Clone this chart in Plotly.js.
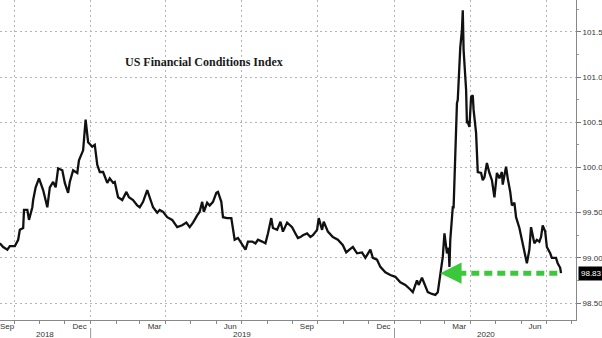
<!DOCTYPE html>
<html>
<head>
<meta charset="utf-8">
<script src="https://cdn.plot.ly/plotly-3.0.1.min.js"></script>
<style>html,body{margin:0;padding:0;background:#fff}#chart{width:602px;height:338px}</style>
</head>
<body>
<div id="chart"></div>
<script>
// ---- data ----
const dates = [
"2018-09-14","2018-09-18","2018-09-23","2018-09-26","2018-10-02","2018-10-06","2018-10-08","2018-10-12","2018-10-13","2018-10-17",
"2018-10-19","2018-10-23","2018-10-24","2018-10-27","2018-10-31","2018-11-05","2018-11-10","2018-11-13","2018-11-17","2018-11-20",
"2018-11-23","2018-11-28","2018-12-01","2018-12-05","2018-12-07","2018-12-11","2018-12-16","2018-12-18","2018-12-23","2018-12-26",
"2018-12-29","2019-01-03","2019-01-06","2019-01-09","2019-01-12","2019-01-16","2019-01-21","2019-01-24","2019-01-28","2019-01-30",
"2019-02-03","2019-02-08","2019-02-13","2019-02-16","2019-02-21","2019-02-26","2019-03-01","2019-03-05","2019-03-10","2019-03-13",
"2019-03-17","2019-03-22","2019-03-25","2019-03-29","2019-04-03","2019-04-09","2019-04-15","2019-04-21","2019-04-26","2019-04-30",
"2019-05-04","2019-05-09","2019-05-12","2019-05-15","2019-05-17","2019-05-21","2019-05-24","2019-05-28","2019-06-01","2019-06-03",
"2019-06-07","2019-06-09","2019-06-14","2019-06-19","2019-06-21","2019-06-23","2019-06-27","2019-07-02","2019-07-06","2019-07-09",
"2019-07-14","2019-07-18","2019-07-21","2019-07-26","2019-07-30","2019-08-02","2019-08-06","2019-08-08","2019-08-13","2019-08-17",
"2019-08-20","2019-08-25","2019-08-31","2019-09-04","2019-09-07","2019-09-10","2019-09-13","2019-09-18","2019-09-22","2019-09-25",
"2019-09-30","2019-10-02","2019-10-06","2019-10-08","2019-10-13","2019-10-19","2019-10-25","2019-10-31","2019-11-04","2019-11-09",
"2019-11-12","2019-11-17","2019-11-23","2019-11-27","2019-12-03","2019-12-06","2019-12-11","2019-12-15","2019-12-21","2019-12-27",
"2020-01-02","2020-01-08","2020-01-14","2020-01-20","2020-01-23","2020-01-28","2020-01-30","2020-02-03","2020-02-07","2020-02-10",
"2020-02-15","2020-02-19","2020-02-22","2020-02-25","2020-02-28","2020-03-01","2020-03-04","2020-03-06","2020-03-07","2020-03-08",
"2020-03-11","2020-03-12","2020-03-14","2020-03-15","2020-03-16","2020-03-17","2020-03-20","2020-03-22","2020-03-23","2020-03-24",
"2020-03-27","2020-03-28","2020-03-29","2020-03-31","2020-04-02","2020-04-04","2020-04-05","2020-04-08","2020-04-10","2020-04-14",
"2020-04-16","2020-04-18","2020-04-21","2020-04-24","2020-04-27","2020-04-30","2020-05-03","2020-05-06","2020-05-09","2020-05-10",
"2020-05-14","2020-05-16","2020-05-19","2020-05-21","2020-05-24","2020-05-26","2020-05-30","2020-06-02","2020-06-05","2020-06-08",
"2020-06-11","2020-06-13","2020-06-15","2020-06-17","2020-06-20","2020-06-23","2020-06-25","2020-06-27","2020-06-30","2020-07-02",
"2020-07-06","2020-07-08","2020-07-13","2020-07-15","2020-07-18","2020-07-19"
];
const fciValues = [
99.16,99.12,99.09,99.13,99.13,99.20,99.31,99.33,99.53,99.53,
99.42,99.56,99.64,99.78,99.88,99.75,99.56,99.78,99.84,99.78,
99.99,99.97,99.83,99.72,99.84,99.97,99.94,100.08,100.19,100.53,
100.28,100.23,100.25,100.03,99.95,99.95,99.83,99.88,99.83,99.84,
99.67,99.64,99.73,99.67,99.64,99.58,99.56,99.62,99.75,99.66,
99.56,99.50,99.53,99.51,99.45,99.42,99.34,99.36,99.39,99.34,
99.39,99.47,99.51,99.62,99.51,99.61,99.58,99.62,99.72,99.73,
99.62,99.45,99.44,99.44,99.29,99.20,99.22,99.14,99.09,99.18,
99.18,99.16,99.20,99.18,99.16,99.27,99.44,99.33,99.31,99.40,
99.29,99.39,99.34,99.27,99.22,99.23,99.25,99.27,99.23,99.25,
99.31,99.44,99.31,99.40,99.29,99.23,99.20,99.14,99.06,99.10,
99.12,99.05,99.06,99.00,99.09,99.00,98.98,98.90,98.84,98.81,
98.79,98.73,98.70,98.65,98.62,98.75,98.70,98.78,98.68,98.62,
98.60,98.59,98.62,98.79,99.01,99.27,99.05,99.11,98.90,99.20,
99.56,99.56,100.16,100.49,100.71,100.75,101.33,101.52,101.74,101.30,
100.86,100.49,100.50,100.45,100.78,100.80,100.64,100.38,99.95,99.94,
99.86,99.89,100.05,99.94,99.86,99.67,99.94,99.88,99.95,99.81,
100.01,99.88,99.73,99.58,99.61,99.45,99.33,99.20,99.06,98.94,
99.09,99.34,99.25,99.16,99.20,99.18,99.23,99.36,99.29,99.12,
99.05,99.00,99.00,98.94,98.89,98.83
];
// quarter boundaries (gridlines); the month label of each sits in the month before it
const quarterStarts = ["2018-10-01","2019-01-01","2019-04-01","2019-07-01","2019-10-01","2020-01-01","2020-04-01","2020-07-01"];
const monthLabels = ["\u2002\u2002Sep","Dec","Mar","Jun","Sep","Dec","Mar","Jun"];
const yearLabelDates = ["2018-11-07","2019-07-02","2020-04-20"];
const yearLabels = ["2018","2019","2020"];
const yearBoundaries = ["2019-01-01","2020-01-01"];
const titleText = "US Financial Conditions Index";
const arrowTipDate = "2020-02-25";

const xRange = ["2018-09-14 04:00","2020-08-06"];
const yRange = [98.312, 101.854];
const lastDate = dates[dates.length-1];
const lastVal = fciValues[fciValues.length-1];
const green = "#3cc83c";
const tickFont = {family:"Liberation Sans, Arial, sans-serif", size:8, color:"#333"};

const traces = [{
  type:"scatter", mode:"lines", x:dates, y:fciValues,
  line:{color:"#111", width:2.3}, hoverinfo:"skip", showlegend:false
}];

const shapes = [
  {type:"line", xref:"x", yref:"y", x0:"2020-03-02", x1:lastDate, y0:lastVal, y1:lastVal,
   line:{color:green, width:5, dash:"8px,5px"}}
];
yearBoundaries.forEach(d => shapes.push({type:"line", xref:"x", yref:"paper", x0:d, x1:d, y0:-0.025, y1:-0.06,
  line:{color:"#999", width:1}}));

const annotations = [
  {text:titleText, xref:"paper", yref:"paper", x:0.354, y:0.834, showarrow:false,
   font:{family:"Liberation Serif, Times New Roman, serif", size:12, color:"#1a1a1a", weight:"bold"}},
  {text:lastVal.toFixed(2), xref:"paper", yref:"y", x:1, y:lastVal, xanchor:"left", xshift:2,
   showarrow:false, bgcolor:"#000", borderpad:2, font:{family:"Liberation Sans, Arial, sans-serif", size:8, color:"#fff"}},
  {text:"", x:arrowTipDate, y:lastVal, ax:"2020-03-06", ay:lastVal, axref:"x", ayref:"y", xref:"x", yref:"y",
   showarrow:true, arrowhead:2, arrowsize:0.85, arrowwidth:5, arrowcolor:green}
];
yearLabels.forEach((t,i) => annotations.push({text:t, xref:"x", yref:"paper", x:yearLabelDates[i], y:-0.044,
  yanchor:"middle", showarrow:false, font:tickFont}));

const layout = {
  width:602, height:338,
  margin:{l:0, r:26, t:0, b:18, pad:0},
  paper_bgcolor:"#fff", plot_bgcolor:"#fff",
  showlegend:false,
  xaxis:{type:"date", range:xRange, tickmode:"array", tickvals:quarterStarts, ticktext:monthLabels,
    ticklabelshift:-11, ticklabelstandoff:-5, ticklabeloverflow:"allow",
    showgrid:true, gridcolor:"#b5b5b5", griddash:"2px,3px", gridwidth:1,
    ticks:"outside", ticklen:3, tickcolor:"#888", tickfont:tickFont,
    minor:{dtick:"M1", tick0:"2018-09-01", ticks:"outside", ticklen:3, tickcolor:"#888", showgrid:false},
    showline:true, linecolor:"#888", linewidth:1, zeroline:false, fixedrange:true},
  yaxis:{side:"right", range:yRange, tick0:98.5, dtick:0.5, tickformat:".2f",
    showgrid:true, gridcolor:"#b5b5b5", griddash:"2px,3px", gridwidth:1,
    ticks:"outside", ticklen:4, tickcolor:"#777", tickfont:tickFont,
    minor:{dtick:0.25, ticks:"outside", ticklen:2, tickcolor:"#999", showgrid:false},
    showline:true, linecolor:"#888", linewidth:1, zeroline:false, fixedrange:true},
  shapes:shapes, annotations:annotations
};
Plotly.newPlot("chart", traces, layout, {displayModeBar:false, staticPlot:true});
</script>
</body>
</html>
